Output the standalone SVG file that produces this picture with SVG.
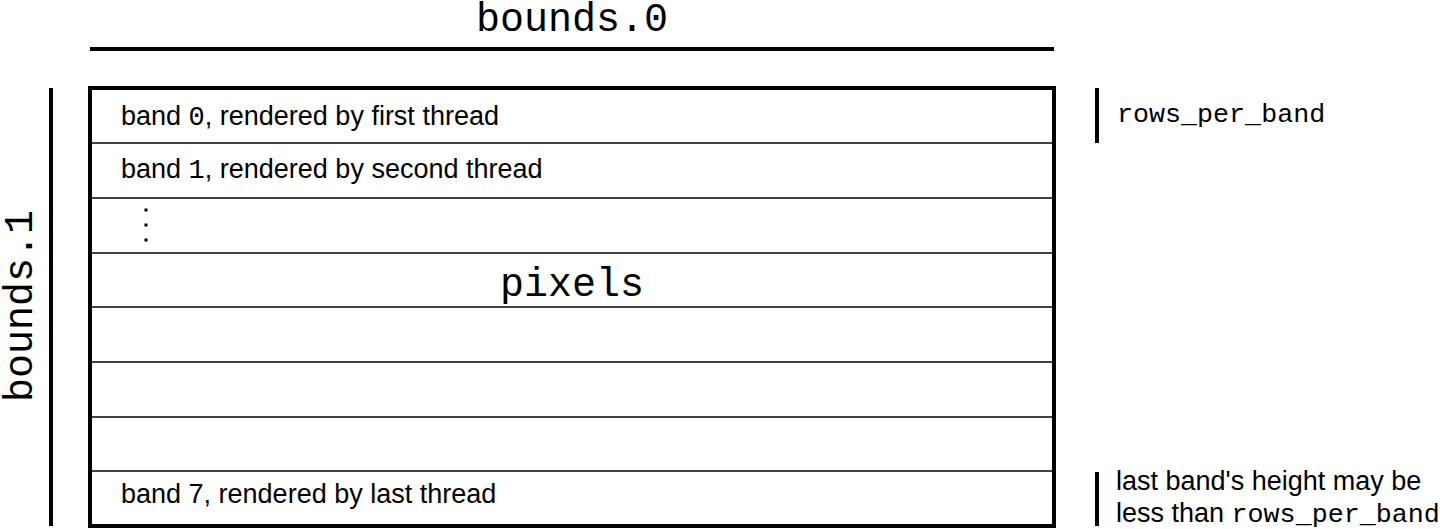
<svg xmlns="http://www.w3.org/2000/svg" width="1440" height="529" viewBox="0 0 1440 529">
<style>
.mono{font-family:"Liberation Mono","DejaVu Sans Mono",monospace;fill:#000}
.sans{font-family:"Liberation Sans",Arial,sans-serif;fill:#000;font-size:27px}
.thick{stroke:#000;stroke-width:4;fill:none}
.thin{stroke:#000;stroke-width:1.5;fill:none}
</style>
<rect width="1440" height="529" fill="#fff"/>
<g id="bounds0">
<text class="mono" x="572" y="31" font-size="40" text-anchor="middle">bounds.0</text>
<line class="thick" x1="90" y1="49" x2="1054" y2="49"/>
</g>
<g id="bounds1">
<line class="thick" x1="51" y1="88" x2="51" y2="526"/>
<text class="mono" font-size="40" text-anchor="middle" transform="translate(32,306) rotate(-90)">bounds.1</text>
</g>
<g id="pixels">
<rect class="thick" x="90" y="88" width="964" height="438"/>
<line class="thin" x1="90" y1="143" x2="1054" y2="143"/>
<line class="thin" x1="90" y1="198" x2="1054" y2="198"/>
<line class="thin" x1="90" y1="253" x2="1054" y2="253"/>
<line class="thin" x1="90" y1="307" x2="1054" y2="307"/>
<line class="thin" x1="90" y1="362" x2="1054" y2="362"/>
<line class="thin" x1="90" y1="417" x2="1054" y2="417"/>
<line class="thin" x1="90" y1="471" x2="1054" y2="471"/>
<text class="sans" x="121" y="125">band <tspan class="mono">0</tspan>, rendered by first thread</text>
<text class="sans" x="121" y="178">band <tspan class="mono">1</tspan>, rendered by second thread</text>
<rect x="144.5" y="208.5" width="3" height="3" fill="#000"/>
<rect x="144.5" y="223.5" width="3" height="3" fill="#000"/>
<rect x="144.5" y="238.5" width="3" height="3" fill="#000"/>
<text class="mono" x="572" y="296" font-size="40" text-anchor="middle">pixels</text>
<text class="sans" x="121" y="503">band 7, rendered by last thread</text>
</g>
<g id="rows_per_band">
<line class="thick" x1="1097" y1="88" x2="1097" y2="143"/>
<text class="mono" x="1117" y="122" font-size="26.7">rows_per_band</text>
</g>
<g id="last_band">
<line class="thick" x1="1097" y1="472" x2="1097" y2="526"/>
<text class="sans" x="1116" y="490">last band's height may be</text>
<text class="sans" x="1116" y="522">less than <tspan class="mono" font-size="26.7">rows_per_band</tspan></text>
</g>
</svg>
